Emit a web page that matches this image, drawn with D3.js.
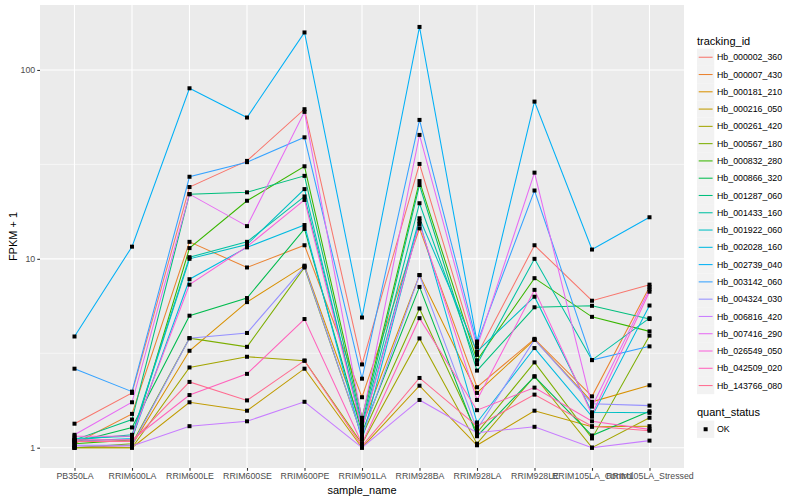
<!DOCTYPE html>
<html>
<head>
<meta charset="utf-8">
<script src="https://cdn.jsdelivr.net/npm/d3@7"></script>
<style>
  body { margin: 0; background: #fff; }
  text { font-family: "Liberation Sans", Arial, sans-serif; }
</style>
</head>
<body>
<div id="chart"></div>
<script>
// samples on the x axis
var samples = ["PB350LA", "RRIM600LA", "RRIM600LE", "RRIM600SE", "RRIM600PE", "RRIM901LA",
               "RRIM928BA", "RRIM928LA", "RRIM928LE", "RRIM105LA_Control", "RRIM105LA_Stressed"];

var trackingIds = ["Hb_000002_360", "Hb_000007_430", "Hb_000181_210", "Hb_000216_050", "Hb_000261_420",
                   "Hb_000567_180", "Hb_000832_280", "Hb_000866_320", "Hb_001287_060", "Hb_001433_160",
                   "Hb_001922_060", "Hb_002028_160", "Hb_002739_040", "Hb_003142_060", "Hb_004324_030",
                   "Hb_006816_420", "Hb_007416_290", "Hb_026549_050", "Hb_042509_020", "Hb_143766_080"];

// FPKM + 1, one array per tracking id (same order as samples)
var hb_000002_360 = [1.34, 1.95, 24.0, 33.0, 62.0, 2.76, 31.8, 3.1, 11.8, 6.0, 7.3];
var hb_000007_430 = [1.05, 1.51, 12.3, 9.0, 11.8, 1.85, 14.5, 2.09, 3.77, 1.87, 7.1];
var hb_000181_210 = [1.0, 1.03, 3.26, 5.9, 9.2, 1.3, 8.2, 1.95, 3.73, 1.75, 2.14];
var hb_000216_050 = [1.0, 1.0, 1.74, 1.57, 2.62, 1.0, 2.13, 1.03, 1.57, 1.29, 1.3];
var hb_000261_420 = [1.0, 1.0, 2.66, 3.03, 2.89, 1.05, 3.79, 1.05, 2.39, 1.0, 1.44];
var hb_000567_180 = [1.0, 1.05, 3.8, 3.42, 9.0, 1.15, 5.46, 1.2, 2.83, 1.12, 3.92];
var hb_000832_280 = [1.05, 1.1, 11.4, 20.3, 30.9, 1.44, 25.8, 2.9, 7.9, 4.93, 4.13];
var hb_000866_320 = [1.07, 1.28, 5.0, 6.2, 14.4, 1.2, 7.1, 1.15, 2.38, 1.16, 1.56];
var hb_001287_060 = [1.1, 1.41, 22.0, 22.5, 27.5, 1.35, 24.6, 2.56, 5.54, 5.64, 4.8];
var hb_001433_160 = [1.1, 1.17, 10.2, 12.3, 21.4, 1.3, 19.7, 2.77, 10.0, 2.91, 4.85];
var hb_001922_060 = [1.12, 1.15, 10.0, 11.9, 23.4, 1.25, 16.4, 3.23, 6.3, 1.54, 1.53];
var hb_002028_160 = [1.08, 1.12, 7.8, 11.5, 15.1, 1.1, 15.8, 1.36, 3.37, 1.46, 5.66];
var hb_002739_040 = [3.88, 11.6, 80.0, 56.0, 158.0, 4.89, 169.0, 3.65, 68.0, 11.2, 16.6];
var hb_003142_060 = [2.62, 1.98, 27.2, 32.5, 44.0, 2.32, 54.4, 3.58, 23.0, 2.91, 3.44];
var hb_004324_030 = [1.03, 1.03, 3.8, 4.05, 9.1, 1.15, 8.2, 1.25, 3.73, 1.71, 1.67];
var hb_006816_420 = [1.02, 1.02, 1.3, 1.38, 1.75, 1.0, 1.79, 1.2, 1.29, 1.0, 1.09];
var hb_007416_290 = [1.17, 1.74, 22.0, 14.9, 60.0, 1.4, 45.3, 3.41, 28.6, 1.65, 6.9];
var hb_026549_050 = [1.15, 1.15, 7.3, 11.6, 20.5, 1.25, 15.3, 1.79, 6.85, 1.5, 6.7];
var hb_042509_020 = [1.1, 1.1, 1.9, 2.46, 4.8, 1.05, 4.85, 1.58, 2.08, 1.38, 1.25];
var hb_143766_080 = [1.08, 1.08, 2.23, 1.78, 2.89, 1.02, 2.34, 1.3, 1.91, 1.3, 1.23];

var seriesValues = [hb_000002_360, hb_000007_430, hb_000181_210, hb_000216_050, hb_000261_420,
                    hb_000567_180, hb_000832_280, hb_000866_320, hb_001287_060, hb_001433_160,
                    hb_001922_060, hb_002028_160, hb_002739_040, hb_003142_060, hb_004324_030,
                    hb_006816_420, hb_007416_290, hb_026549_050, hb_042509_020, hb_143766_080];

var yTicks = [1, 10, 100];
var yMinorTicks = [Math.sqrt(10), Math.sqrt(1000)];

// ggplot hue palette for 20 levels
var palette = ["#F8766D", "#EA8331", "#D89000", "#C09B00", "#A3A500", "#7CAE00", "#39B600", "#00BB4E",
               "#00BF7D", "#00C1A3", "#00BFC4", "#00BAE0", "#00B0F6", "#35A2FF", "#9590FF", "#C77CFF",
               "#E76BF3", "#FA62DB", "#FF62BC", "#FF6C91"];

var series = trackingIds.map(function (id, i) {
    return { id: id, color: palette[i], values: seriesValues[i].map(function (v, j) {
        return { sample: samples[j], value: v };
    }) };
});

var svgWidth = 800, svgHeight = 500;
var panel = { left: 40, right: 684, top: 5, bottom: 468 };

var svg = d3.select("#chart").append("svg")
    .attr("width", svgWidth)
    .attr("height", svgHeight);

var x = d3.scalePoint()
    .domain(samples)
    .range([panel.left, panel.right])
    .padding(0.6);

var y = d3.scaleLog()
    .domain([Math.pow(10, -0.1075), Math.pow(10, 2.344)])
    .range([panel.bottom, panel.top]);

// panel background
svg.append("rect")
    .attr("x", panel.left).attr("y", panel.top)
    .attr("width", panel.right - panel.left)
    .attr("height", panel.bottom - panel.top)
    .attr("fill", "#EBEBEB");

// grid
svg.append("g").selectAll("line")
    .data(yMinorTicks).enter().append("line")
    .attr("x1", panel.left).attr("x2", panel.right)
    .attr("y1", d => y(d)).attr("y2", d => y(d))
    .attr("stroke", "#fff").attr("stroke-width", 0.55);
svg.append("g").selectAll("line")
    .data(yTicks).enter().append("line")
    .attr("x1", panel.left).attr("x2", panel.right)
    .attr("y1", d => y(d)).attr("y2", d => y(d))
    .attr("stroke", "#fff").attr("stroke-width", 1.1);
svg.append("g").selectAll("line")
    .data(samples).enter().append("line")
    .attr("x1", d => x(d)).attr("x2", d => x(d))
    .attr("y1", panel.top).attr("y2", panel.bottom)
    .attr("stroke", "#fff").attr("stroke-width", 1.1);

// axes
var xAxis = svg.append("g")
    .attr("transform", `translate(0, ${panel.bottom})`)
    .call(d3.axisBottom(x).tickSize(2.75).tickPadding(2));
var yAxis = svg.append("g")
    .attr("transform", `translate(${panel.left}, 0)`)
    .call(d3.axisLeft(y).tickValues(yTicks).tickFormat(d3.format("d")).tickSize(2.75).tickPadding(2));
[xAxis, yAxis].forEach(function (a) {
    a.select(".domain").remove();
    a.selectAll(".tick line").attr("stroke", "#333333").attr("stroke-width", 1.1);
    a.selectAll(".tick text").attr("fill", "#4D4D4D").attr("font-size", "8.8px")
        .attr("font-family", "Liberation Sans, Arial, sans-serif");
});

// lines
var line = d3.line()
    .x(d => x(d.sample))
    .y(d => y(d.value));

svg.append("g").selectAll("path")
    .data(series).enter().append("path")
    .attr("d", d => line(d.values))
    .attr("fill", "none")
    .attr("stroke", d => d.color)
    .attr("stroke-width", 1.05);

// points (quant_status OK)
var pts = [];
series.forEach(function (s) { s.values.forEach(function (v) { pts.push(v); }); });
svg.append("g").selectAll("rect")
    .data(pts).enter().append("rect")
    .attr("x", d => x(d.sample) - 2)
    .attr("y", d => y(d.value) - 2)
    .attr("width", 4).attr("height", 4)
    .attr("fill", "#000");

// axis titles
svg.append("text")
    .attr("x", (panel.left + panel.right) / 2)
    .attr("y", 494)
    .attr("text-anchor", "middle")
    .attr("font-size", "11px")
    .text("sample_name");
svg.append("text")
    .attr("transform", `translate(17, ${(panel.top + panel.bottom) / 2}) rotate(-90)`)
    .attr("text-anchor", "middle")
    .attr("font-size", "11px")
    .text("FPKM + 1");

// legend: tracking_id
var legend = svg.append("g");
legend.append("text")
    .attr("x", 697).attr("y", 44.5)
    .attr("font-size", "11px")
    .text("tracking_id");
var keys = legend.selectAll("g.key")
    .data(series).enter().append("g")
    .attr("class", "key")
    .attr("transform", (d, i) => `translate(697, ${48.6 + i * 17.28})`);
keys.append("rect")
    .attr("width", 17.28).attr("height", 17.28)
    .attr("fill", "#F2F2F2");
keys.append("line")
    .attr("x1", 1.7).attr("x2", 15.6)
    .attr("y1", 8.64).attr("y2", 8.64)
    .attr("stroke", d => d.color)
    .attr("stroke-width", 1.05);
keys.append("text")
    .attr("x", 20).attr("y", 8.64)
    .attr("dy", "0.35em")
    .attr("font-size", "8.8px")
    .text(d => d.id);

// legend: quant_status
legend.append("text")
    .attr("x", 697).attr("y", 416)
    .attr("font-size", "11px")
    .text("quant_status");
var ok = legend.append("g").attr("transform", "translate(697, 420.6)");
ok.append("rect").attr("width", 17.28).attr("height", 17.28).attr("fill", "#F2F2F2");
ok.append("rect").attr("x", 6.64).attr("y", 6.64).attr("width", 4).attr("height", 4).attr("fill", "#000");
ok.append("text").attr("x", 20).attr("y", 8.64).attr("dy", "0.35em")
    .attr("font-size", "8.8px").text("OK");
</script>
</body>
</html>
